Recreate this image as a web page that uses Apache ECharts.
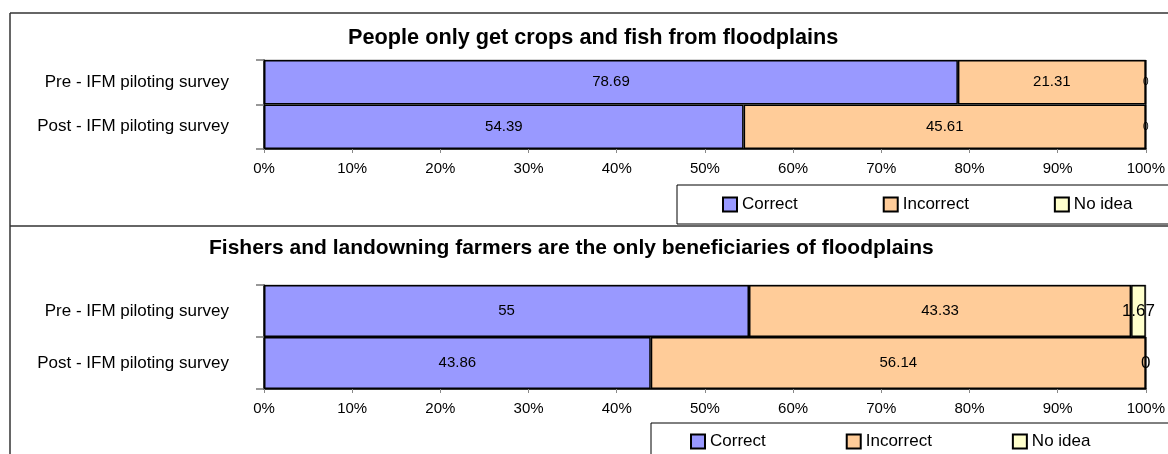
<!DOCTYPE html>
<html>
<head>
<meta charset="utf-8">
<style>
  html, body { margin: 0; padding: 0; background: #fff; }
  #chart { width: 1168px; height: 454px; }
</style>
<script src="https://cdn.jsdelivr.net/npm/echarts@6/dist/echarts.min.js"></script>
</head>
<body>
<div id="chart"></div>
<script>
// survey rows (top to bottom)
var surveys = ['Pre - IFM piloting survey', 'Post - IFM piloting survey']
var answers = ['Correct', 'Incorrect', 'No idea']
var xTicks = [0, 10, 20, 30, 40, 50, 60, 70, 80, 90, 100]

// panel 1: People only get crops and fish from floodplains
var title1 = 'People only get crops and fish from floodplains'
var correct1 = [78.69, 54.39]
var incorrect1 = [21.31, 45.61]
var noIdea1 = [0, 0]

// panel 2: Fishers and landowning farmers are the only beneficiaries of floodplains
var title2 = 'Fishers and landowning farmers are the only beneficiaries of floodplains'
var correct2 = [55, 43.86]
var incorrect2 = [43.33, 56.14]
var noIdea2 = [1.67, 0]

var colors = ['#9999ff', '#ffcc99', '#ffffcc']
var font = "'Liberation Sans', Arial, sans-serif"

function xAxisOf(idx) {
  return {
    type: 'value',
    gridIndex: idx,
    min: xTicks[0],
    max: xTicks[xTicks.length - 1],
    interval: xTicks[1] - xTicks[0],
    axisLine: { show: true, lineStyle: { color: '#000', width: 1.5 } },
    axisTick: { show: true, length: 4, lineStyle: { color: '#888' } },
    axisLabel: { formatter: '{value}%', color: '#000', fontSize: 15, fontFamily: font, margin: 12 },
    splitLine: { show: false }
  }
}

function yAxisOf(idx) {
  return {
    type: 'category',
    gridIndex: idx,
    inverse: true,
    data: surveys,
    axisLine: { show: true, lineStyle: { color: '#000', width: 1.5 } },
    axisTick: { show: true, length: 8, lineStyle: { color: '#777', width: 1.5 } },
    axisLabel: { color: '#000', fontSize: 17, fontFamily: font, margin: 35 }
  }
}

function barOf(name, values, idx, colorIdx, labelSize) {
  return {
    name: name,
    type: 'bar',
    xAxisIndex: idx,
    yAxisIndex: idx,
    stack: 'panel' + idx,
    barCategoryGap: 0,
    data: values,
    itemStyle: { color: colors[colorIdx], borderColor: '#000', borderWidth: 1.5 },
    label: {
      show: true,
      position: 'inside',
      formatter: '{c}',
      color: '#000',
      fontSize: labelSize,
      fontFamily: font
    }
  }
}

function legendOf(left, top, width, gap, pad) {
  return {
    data: answers,
    left: left,
    top: top,
    width: width,
    orient: 'horizontal',
    itemGap: gap,
    itemWidth: 14,
    itemHeight: 14,
    icon: 'rect',
    padding: pad,
    borderColor: '#000',
    borderWidth: 1,
    selectedMode: false,
    textStyle: { color: '#000', fontSize: 17, fontFamily: font }
  }
}

var chart = echarts.init(document.getElementById('chart'))

chart.setOption({
  animation: false,
  title: [
    { text: title1, left: 343, top: 22, textStyle: { fontSize: 21.7, fontWeight: 'bold', color: '#000', fontFamily: font } },
    { text: title2, left: 204, top: 233, textStyle: { fontSize: 21, fontWeight: 'bold', color: '#000', fontFamily: font } }
  ],
  grid: [
    { left: 264, top: 60, right: 17, height: 89, show: true, borderColor: '#aaa', borderWidth: 1 },
    { left: 264, top: 285, right: 17, height: 104, show: true, borderColor: '#aaa', borderWidth: 1 }
  ],
  xAxis: [xAxisOf(0), xAxisOf(1)],
  yAxis: [yAxisOf(0), yAxisOf(1)],
  legend: [
    legendOf(677, 185, 460, 85, [11, 60, 11, 45]),
    legendOf(651, 423, 520, 80, [10, 90, 20, 39])
  ],
  series: [
    barOf('Correct', correct1, 0, 0, 15),
    barOf('Incorrect', incorrect1, 0, 1, 15),
    barOf('No idea', noIdea1, 0, 2, 10),
    barOf('Correct', correct2, 1, 0, 15),
    barOf('Incorrect', incorrect2, 1, 1, 15),
    barOf('No idea', noIdea2, 1, 2, 17)
  ],
  graphic: [
    { type: 'line', shape: { x1: 10, y1: 13, x2: 1168, y2: 13 }, style: { stroke: '#333', lineWidth: 1.5 } },
    { type: 'line', shape: { x1: 10, y1: 13, x2: 10, y2: 454 }, style: { stroke: '#333', lineWidth: 1.5 } },
    { type: 'line', shape: { x1: 10, y1: 226, x2: 1168, y2: 226 }, style: { stroke: '#333', lineWidth: 1.5 } }
  ]
})
</script>
</body>
</html>
